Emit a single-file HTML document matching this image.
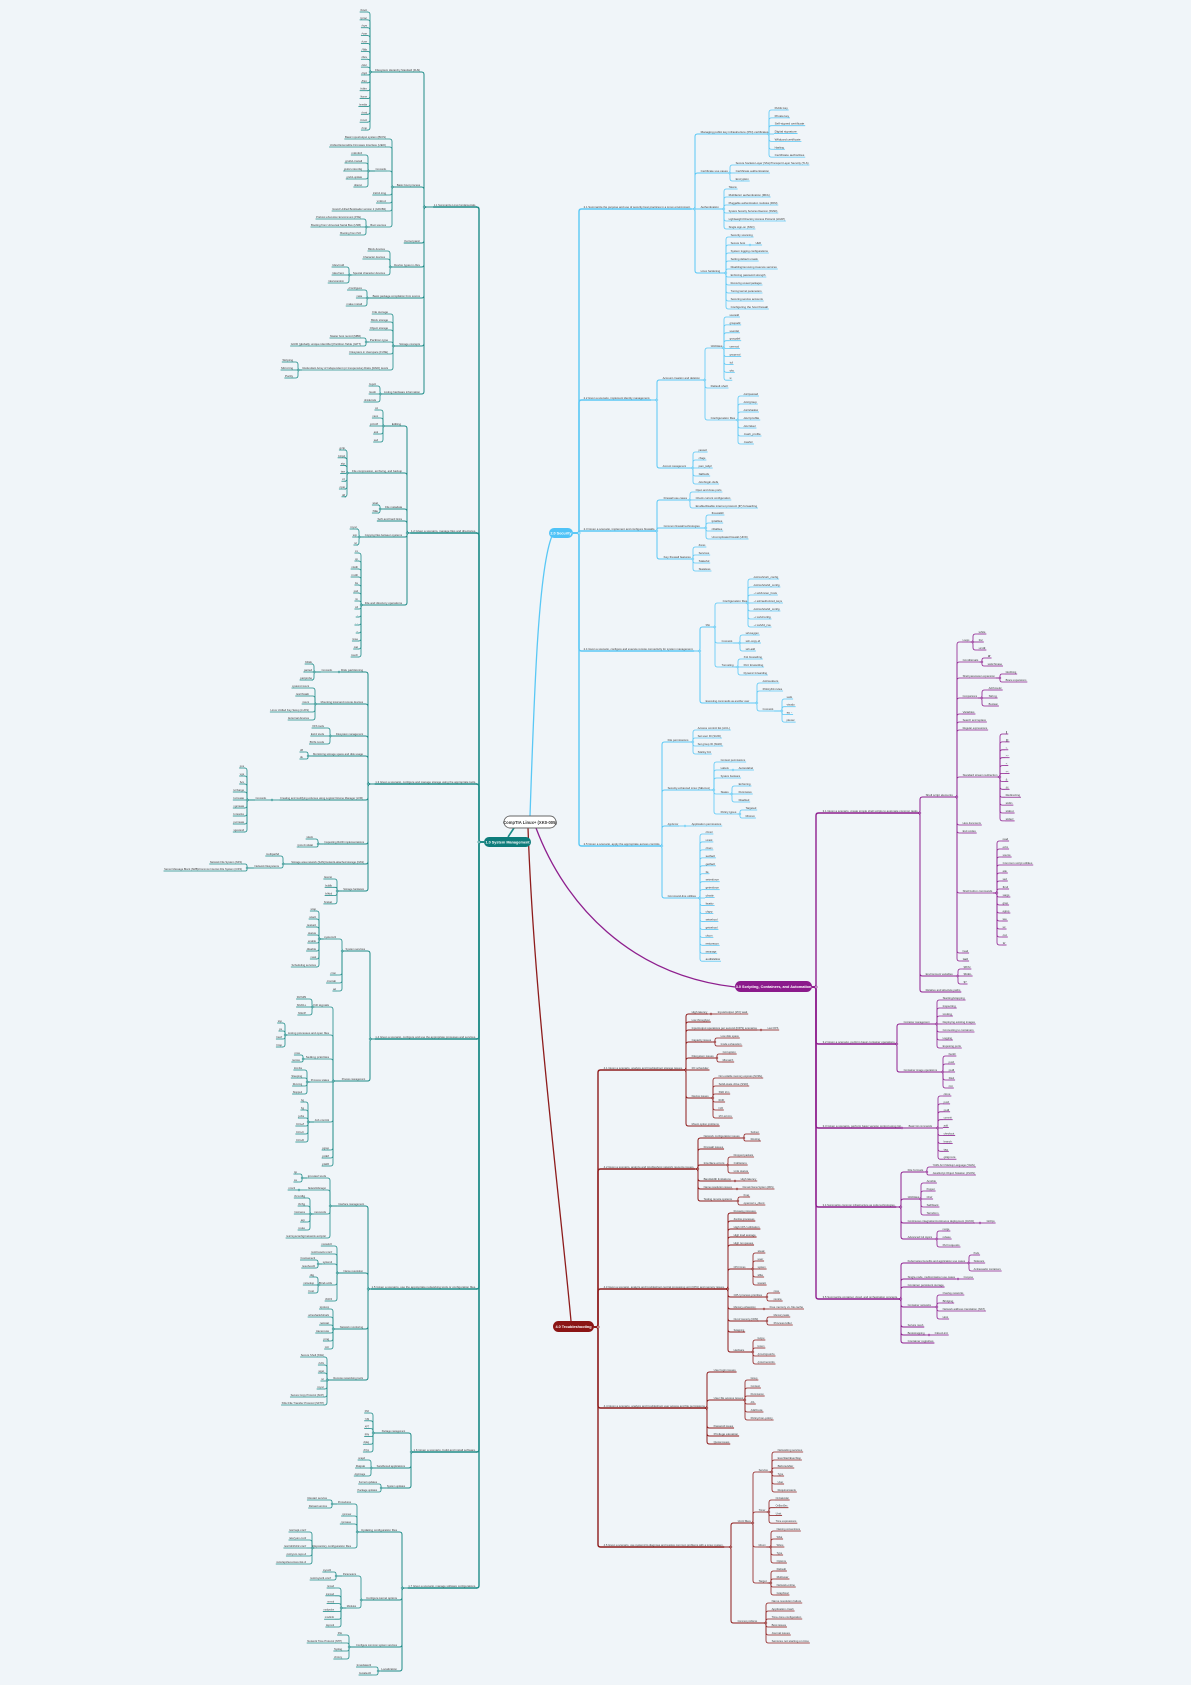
<!DOCTYPE html>
<html><head><meta charset="utf-8"><style>
html,body{margin:0;padding:0;background:#f0f5f9;}
svg{display:block;}
text{font-family:"Liberation Sans",sans-serif;}
</style></head><body>
<svg id="m" xmlns="http://www.w3.org/2000/svg" width="1191" height="1685" viewBox="0 0 1191 1685">
<rect width="1191" height="1685" fill="#f0f5f9"/>
<g id="links"></g><g id="nodes"></g>
<!-- main connectors -->
<path d="M530 816 C534 700 538 570 552 536" stroke="#5ac8f5" stroke-width="1.3" fill="none"/>
<path d="M514 828 L508 837" stroke="#1a8a87" stroke-width="1.6" fill="none"/>
<path d="M536 828 C565 905 630 975 735 987" stroke="#8e1f8e" stroke-width="1.3" fill="none"/>
<path d="M528 828 C534 1000 560 1200 571 1321" stroke="#8e1c1c" stroke-width="1.3" fill="none"/>
<rect x="504" y="816" width="52" height="12" rx="6" fill="#fff" stroke="#666" stroke-width="0.9"/>
<text x="530" y="824.2" font-size="4.2" text-anchor="middle" fill="#333" font-weight="bold">CompTIA Linux+ (XK0-005)</text>
<rect x="484" y="837" width="47" height="10" rx="5" fill="#0e7c7b"/>
<text x="507.5" y="843.6" font-size="3.8" text-anchor="middle" fill="#fff" font-weight="bold">1.0 System Management</text>
<rect x="549" y="528" width="24" height="10" rx="5" fill="#4fc3f7"/>
<text x="561" y="534.6" font-size="3.8" text-anchor="middle" fill="#fff" font-weight="bold">2.0 Security</text>
<rect x="735" y="981" width="77" height="11" rx="5.5" fill="#8b1a8b"/>
<text x="773.5" y="988.1" font-size="3.8" text-anchor="middle" fill="#fff" font-weight="bold">3.0 Scripting, Containers, and Automation</text>
<rect x="553" y="1321" width="41" height="11" rx="5.5" fill="#8b1515"/>
<text x="573.5" y="1328.1" font-size="3.8" text-anchor="middle" fill="#fff" font-weight="bold">4.0 Troubleshooting</text>
</svg>
<script>
function n(a,y,l,tx,k){return {a:a,y:y,l:l,tx:tx,k:k||[]};}
function ls(a,y0,dy,L){return L.map(function(l,i){return n(a,y0+i*dy,l);});}
var NS="http://www.w3.org/2000/svg";
var gl=document.getElementById("links"),gn=document.getElementById("nodes");
function el(t,at,p){var e=document.createElementNS(NS,t);for(var k in at)e.setAttribute(k,at[k]);p.appendChild(e);return e;}
function W(l){return l.length*1.27+2;}
function conn(px,py,tx,cx,cy,col,sw){
  var d,dir=cx<px?-1:1,dy=cy-py;
  if(Math.abs(dy)<0.6){d="M"+px+" "+py+" H"+cx;}
  else{var s=dy>0?1:-1,r=Math.min(2.5,Math.abs(dy)/2);
    d="M"+px+" "+py+" H"+(tx-dir*r)+" Q"+tx+" "+py+" "+tx+" "+(py+s*r)+" V"+(cy-s*r)+" Q"+tx+" "+cy+" "+(tx+dir*r)+" "+cy+" H"+cx;}
  el("path",{d:d,stroke:col,"stroke-width":sw,fill:"none"},gl);
}
function draw(nd,side,col,depth){
  var w=W(nd.l),y=nd.y+2;
  var x1=side<0?nd.a-w:nd.a,x2=x1+w;
  nd.x1=x1;nd.x2=x2;nd.Y=y;
  var sw=depth==1?1.4:(depth==2?1.0:0.8);
  el("line",{x1:x1,y1:y,x2:x2,y2:y,stroke:col,"stroke-width":sw},gn);
  var t=el("text",{x:x1+0.6,y:y-1.0,"font-size":"2.7",fill:"#3a3a3a",textLength:(w-1.5).toFixed(1),lengthAdjust:"spacingAndGlyphs"},gn);
  t.textContent=nd.l;
  if(nd.k.length){
    var px=side<0?x1:x2;
    nd.k.forEach(function(c){
      draw(c,side,col,depth+1);
      var cx=side<0?c.x2:c.x1;
      conn(px,y,nd.tx,cx,c.Y,col,c.sw||(depth+1==2?1.0:0.8));
    });
    el("circle",{cx:nd.tx,cy:y,r:0.9,fill:"#f0f5f9",stroke:col,"stroke-width":0.6},gn);
  }
}
function root(px,py,tx,side,col,kids){
  kids.forEach(function(c){draw(c,side,col,1);var cx=side<0?c.x2:c.x1;conn(px,py,tx,cx,c.Y,col,1.4);});
  el("circle",{cx:tx,cy:py,r:1.1,fill:"#f0f5f9",stroke:col,"stroke-width":0.7},gn);
}
var teal="#1f8c88",blue="#5ac8f5",purple="#8e1f8e",red="#8e1c1c";

/* ================= 1.0 System Management (left) ================= */
var S1=[
 n(477,205,"1.1 Summarize Linux fundamentals.",424,[
  n(421,70,"Filesystem Hierarchy Standard (FHS)",370,ls(368,10,7.87,["/boot","/proc","/sys","/var","/usr","/lib","/dev","/etc","/opt","/bin","/sbin","/home","/media","/mnt","/root","/tmp"])),
  n(421,185,"Basic boot process",392,[
   n(387,137,"Basic input/output system (BIOS)"),
   n(387,145,"Unified Extensible Firmware Interface (UEFI)"),
   n(387,169,"Commands",368,ls(363,153,8,["mkinitrd","grub2-install","grub2-mkconfig","grub2-update","dracut"])),
   n(387,193,"initrd.img"),n(387,201,"vmlinuz"),
   n(387,209,"Grand Unified Bootloader version 2 (GRUB2)"),
   n(387,225,"Boot sources",366,[n(362,217,"Preboot eXecution Environment (PXE)"),n(362,225,"Booting from Universal Serial Bus (USB)"),n(362,233,"Booting from ISO")])
  ]),
  n(421,241,"Kernel panic"),
  n(421,265,"Device types in /dev",390,[n(386,249,"Block devices"),n(386,257,"Character devices"),n(386,273,"Special character devices",349,ls(345,265,8,["/dev/null","/dev/zero","/dev/urandom"]))]),
  n(421,296,"Basic package compilation from source",367,ls(363,288,8,["./configure","make","make install"])),
  n(421,344,"Storage concepts",393,[n(389,312,"File storage"),n(389,320,"Block storage"),n(389,328,"Object storage"),
   n(389,340,"Partition type",366,[n(362,336,"Master boot record (MBR)"),n(362,344,"GUID [globally unique identifier] Partition Table (GPT)")]),
   n(389,352,"Filesystem in Userspace (FUSE)"),
   n(389,368,"Redundant Array of Independent (or Inexpensive) Disks (RAID) levels",298,ls(294,360,8,["Striping","Mirroring","Parity"]))]),
  n(421,392,"Listing hardware information",380,ls(377,384,8,["lspci","lsusb","dmidecode"]))
 ]),
 n(477,531,"1.2 Given a scenario, manage files and directories.",407,[
  n(402,424,"Editing",383,ls(379,408,8,["vi","nano","printf","awk","sed"])),
  n(403,471,"File compression, archiving, and backup",347,ls(346,448,7.8,["gzip","bzip2","zip","tar","xz","cpio","dd"])),
  n(403,507,"File metadata",380,ls(379,503,8,["stat","file"])),
  n(403,519,"Soft and hard links"),
  n(403,535,"Copying files between systems",359,ls(358,527,8,["rsync","scp","nc"])),
  n(403,603,"File and directory operations",361,ls(359,551,8,["mv","cp","mkdir","rmdir","ls","pwd","rm","cd",".","..","~","tree","cat","touch"]))
 ]),
 n(477,782,"1.3 Given a scenario, configure and manage storage using the appropriate tools.",368,[
  n(364,670,"Disk partitioning",339,[n(333,670,"Commands",314,ls(313,662,8,["fdisk","parted","partprobe"]))]),
  n(364,702,"Mounting local and remote devices",315,ls(310,686,8,["systemd.mount","/etc/fstab","mount","Linux Unified Key Setup (LUKS)","External devices"])),
  n(364,734,"Filesystem management",330,ls(325,726,8,["XFS tools","Ext4 tools","Btrfs tools"])),
  n(364,754,"Monitoring storage space and disk usage",308,ls(304,750,7,["df","du"])),
  n(364,798,"Creating and modifying volumes using Logical Volume Manager (LVM)",272,[n(267,798,"Commands",247,ls(245,766,8,["pvs","vgs","lvs","lvchange","lvcreate","vgcreate","lvresize","pvcreate","vgextend"]))]),
  n(365,842,"Inspecting RAID implementations",318,ls(314,837,8,["mdadm","/proc/mdstat"])),
  n(365,862,"Storage area network (SAN)/network-attached storage (NAS)",283,[n(280,854,"multipathd"),n(280,866,"Network filesystems",247,[n(243,862,"Network File System (NFS)"),n(243,869,"Server Message Block (SMB)/Common Internet File System (CIFS)")])]),
  n(365,889,"Storage hardware",337,ls(333,877,8.3,["lsscsi","lsblk","blkid","fcstat"]))
 ]),
 n(477,1037,"1.4 Given a scenario, configure and use the appropriate processes and services.",370,[
  n(366,949,"System services",342,[
   n(337,937,"systemctl",319,ls(317,909,8,["stop","start","restart","status","enable","disable","mask","Scheduling services"])),
   n(337,973,"cron"),n(337,981,"crontab"),n(337,989,"at")]),
  n(366,1079,"Process management",333,[
   n(330,1005,"Kill signals",312,ls(307,997,8,["SIGTERM","SIGKILL","SIGHUP"])),
   n(330,1033,"Listing processes and open files",285,ls(283,1021,8,["top","ps","lsof","htop"])),
   n(330,1057,"Setting priorities",303,ls(301,1053,7,["nice","renice"])),
   n(330,1080,"Process states",307,ls(303,1068,8,["Zombie","Sleeping","Running","Stopped"])),
   n(330,1120,"Job control",308,ls(305,1100,8,["bg","fg","jobs","Ctrl+Z","Ctrl+C","Ctrl+D"])),
   n(330,1148,"pgrep"),n(330,1156,"pidof"),n(330,1164,"pkill")])
 ]),
 n(477,1287,"1.5 Given a scenario, use the appropriate networking tools or configuration files.",368,[
  n(365,1204,"Interface management",330,[
   n(327,1176,"iproute2 tools",302,ls(298,1172,8,["ip","ss"])),
   n(327,1188,"NetworkManager",299,[n(296,1188,"nmcli")]),
   n(327,1212,"net-tools",310,ls(306,1196,8,["ifconfig","ifcfg","hostname","arp","route"])),
   n(327,1236,"/etc/sysconfig/network-scripts/")]),
  n(364,1271,"Name resolution",337,[
   n(333,1244,"nsswitch"),n(333,1252,"/etc/resolv.conf"),
   n(333,1262,"systemd",318,ls(316,1258,8,["hostnamectl","resolvectl"])),
   n(333,1283,"Bind-utils",318,ls(315,1275,8,["dig","nslookup","host"])),
   n(333,1299,"WHOIS")]),
  n(364,1327,"Network monitoring",333,ls(330,1307,8,["tcpdump","wireshark/tshark","netstat","traceroute","ping","mtr"])),
  n(364,1378,"Remote networking tools",327,ls(325,1355,8,["Secure Shell (SSH)","cURL","wget","nc","rsync","Secure Copy Protocol (SCP)","SSH File Transfer Protocol (SFTP)"]))
 ]),
 n(477,1450,"1.6 Given a scenario, build and install software.",411,[
  n(406,1431,"Package management",373,ls(370,1411,7.8,["DNF","YUM","APT","RPM","dpkg","ZYpp"])),
  n(406,1466,"Sandboxed applications",371,ls(366,1458,8,["snapd","Flatpak","AppImage"])),
  n(406,1486,"System updates",381,ls(378,1482,8,["Kernel updates","Package updates"]))
 ]),
 n(477,1586,"1.7 Given a scenario, manage software configurations.",402,[
  n(398,1530,"Updating configuration files",357,[
   n(352,1502,"Procedures",332,ls(328,1498,8,["Restart service","Reload service"])),
   n(352,1514,".rpmnew"),n(352,1522,".rpmsave"),
   n(352,1546,"Repository configuration files",312,ls(307,1530,8,["/etc/apt.conf","/etc/yum.conf","/etc/dnf/dnf.conf","/etc/yum.repo.d","/etc/apt/sources.list.d"]))]),
  n(398,1598,"Configure kernel options",361,[
   n(357,1574,"Parameters",336,ls(332,1570,8,["sysctl","/etc/sysctl.conf"])),
   n(357,1606,"Modules",341,ls(335,1586,7.8,["lsmod","insmod","rmmod","modprobe","modinfo","depmod"]))]),
  n(398,1645,"Configure common system services",349,ls(343,1633,8,["SSH","Network Time Protocol (NTP)","Syslog","chrony"])),
  n(398,1669,"Localization",378,ls(372,1665,8,["timedatectl","localectl"]))
 ])
];
root(484,842,479,-1,teal,S1);

/* ================= 2.0 Security ================= */
var S2=[
 n(583,207,"2.1 Summarize the purpose and use of security best practices in a Linux environment.",695,[
  n(700,132,"Managing public key infrastructure (PKI) certificates",769,ls(774,108,7.85,["Public key","Private key","Self-signed certificate","Digital signature","Wildcard certificate","Hashing","Certificate authorities"])),
  n(700,171,"Certificate use cases",730,[n(735,163,"Secure Sockets Layer (SSL)/Transport Layer Security (TLS)"),n(735,171,"Certificate authentication"),n(735,179,"Encryption")]),
  n(700,207,"Authentication",724,ls(728,187,8,["Tokens","Multifactor authentication (MFA)","Pluggable authentication modules (PAM)","System Security Services Daemon (SSSD)","Lightweight Directory Access Protocol (LDAP)","Single sign-on (SSO)"])),
  n(700,271,"Linux hardening",726,[n(730,235,"Security scanning"),n(730,243,"Secure boot",750,[n(755,243,"UEFI")]),
   n(730,251,"System logging configurations"),n(730,259,"Setting default umask"),n(730,267,"Disabling/removing insecure services"),n(730,275,"Enforcing password strength"),n(730,283,"Removing unused packages"),n(730,291,"Tuning kernel parameters"),n(730,299,"Securing service accounts"),n(730,307,"Configuring the host firewall")])
 ]),
 n(583,398,"2.2 Given a scenario, implement identity management.",657,[
  n(662,378,"Account creation and deletion",705,[
   n(710,346,"Utilities",724,ls(729,315,7.9,["useradd","groupadd","userdel","groupdel","usermod","groupmod","id","who","w"])),
   n(710,386,"Default shell"),
   n(710,418,"Configuration files",738,ls(743,394,8,["/etc/passwd","/etc/group","/etc/shadow","/etc/profile","/etc/skel",".bash_profile",".bashrc"]))]),
  n(662,466,"Account management",693,ls(698,450,8,["passwd","chage","pam_tally2","faillock","/etc/login.defs"]))
 ]),
 n(583,529,"2.3 Given a scenario, implement and configure firewalls.",657,[
  n(663,498,"Firewall use cases",690,[n(695,490,"Open and close ports"),n(695,498,"Check current configuration"),n(695,506,"Enable/disable internet protocol (IP) forwarding")]),
  n(663,526,"Common firewall technologies",706,ls(711,513,8,["firewalld","iptables","nftables","Uncomplicated firewall (UFW)"])),
  n(663,557,"Key firewall features",693,ls(698,545,8,["Zones","Services","Stateful","Stateless"]))
 ]),
 n(583,649,"2.4 Given a scenario, configure and execute remote connectivity for system management.",700,[
  n(705,625,"SSH",715,[
   n(722,601,"Configuration files",748,ls(753,577,8,["/etc/ssh/ssh_config","/etc/ssh/sshd_config","~/.ssh/known_hosts","~/.ssh/authorized_keys","/etc/ssh/sshd_config","~/.ssh/config","~/.ssh/id_rsa"])),
   n(721,641,"Commands",740,ls(745,633,8,["ssh-keygen","ssh-copy-id","ssh-add"])),
   n(721,665,"Tunneling",738,ls(743,657,8,["X11 forwarding","Port forwarding","Dynamic forwarding"]))]),
  n(705,701,"Executing commands as another user",757,[n(762,681,"/etc/sudoers"),n(762,689,"PolicyKit rules"),n(762,709,"Commands",782,ls(786,697,7.7,["sudo","visudo","su -","pkexec"]))])
 ]),
 n(583,844,"2.5 Given a scenario, apply the appropriate access controls.",662,[
  n(667,740,"File permissions",693,ls(697,728,8,["Access control list (ACL)","Set user ID (SUID)","Set group ID (SGID)","Sticky bit"])),
  n(667,788,"Security-enhanced Linux (SELinux)",714,[n(720,760,"Context permissions"),n(720,768,"Labels",733,[n(738,768,"Autorelabel")]),n(720,776,"System booleans"),
   n(720,792,"States",732,ls(738,784,8,["Enforcing","Permissive","Disabled"])),n(720,812,"Policy types",740,ls(745,808,8,["Targeted","Minimum"]))]),
  n(667,824,"AppArmor",685,[n(691,824,"Application permissions")]),
  n(667,896,"Command-line utilities",700,ls(705,832,7.95,["chmod","umask","chown","setfacl","getfacl","ls","setenforce","getenforce","chattr","lsattr","chgrp","setsebool","getsebool","chcon","restorecon","semanage","audit2allow"]))
 ])
];
root(573,533,579,1,blue,S2);

/* ================= 3.0 Scripting ================= */
var S3=[
 n(822,811,"3.1 Given a scenario, create simple shell scripts to automate common tasks.",920,[
  n(925,795,"Shell script elements",957,[
   n(962,640,"Loops",973,ls(978,632,8,["while","for","until"])),
   n(962,660,"Conditionals",982,[n(987,656,"if"),n(987,664,"switch/case")]),
   n(962,676,"Shell parameter expansion",1000,[n(1005,672,"Globbing"),n(1005,680,"Brace expansions")]),
   n(962,696,"Comparisons",982,ls(988,688,8,["Arithmetic","String","Boolean"])),
   n(962,712,"Variables"),n(962,720,"Search and replace"),n(962,728,"Regular expressions"),
   n(962,775,"Standard stream redirection",1000,ls(1005,732,7.9,["|","||",">",">>","<","<<","&","&&","Redirecting","stdin","stdout","stderr"])),
   n(962,823,"Here documents"),n(962,831,"Exit codes"),
   n(962,891,"Shell built-in commands",997,ls(1002,839,8,["read","echo","source","Common script utilities","awk","sed","find","xargs","grep","egrep","tee","wc","cut","tr"])),
   n(962,951,"head"),n(962,959,"tail")]),
  n(925,974,"Environment variables",958,[n(963,967,"$PATH"),n(963,974,"$SHELL"),n(963,982,"$?")]),
  n(925,990,"Relative and absolute paths")
 ]),
 n(822,1042,"3.2 Given a scenario, perform basic container operations.",897,[
  n(903,1022,"Container management",937,ls(942,998,8,["Starting/stopping","Inspecting","Listing","Deploying existing images","Connecting to containers","Logging","Exposing ports"])),
  n(903,1070,"Container image operations",943,ls(948,1054,8,["build","push","pull","list","rmi"]))
 ]),
 n(822,1126,"3.3 Given a scenario, perform basic version control using Git.",902,[
  n(908,1126,"Basic Git commands",938,ls(943,1094,7.9,["clone","push","pull","commit","add","checkout","branch","tag","gitignore"]))
 ]),
 n(822,1205,"3.4 Summarize common infrastructure as code technologies.",901,[
  n(907,1170,"File formats",927,[n(932,1165,"YAML Ain't Markup Language (YAML)"),n(932,1173,"JavaScript Object Notation (JSON)")]),
  n(907,1197,"Utilities",921,ls(926,1181,8,["Ansible","Puppet","Chef","SaltStack","Terraform"])),
  n(907,1221,"Continuous integration/continuous deployment (CI/CD)",980,[n(986,1221,"GitOps")]),
  n(907,1237,"Advanced Git topics",937,ls(942,1229,8,["merge","rebase","Pull requests"]))
 ]),
 n(822,1297,"3.5 Summarize container, cloud, and orchestration concepts.",901,[
  n(907,1261,"Kubernetes benefits and application use cases",969,ls(973,1253,8,["Pods","Sidecars","Ambassador containers"])),
  n(907,1277,"Single-node, multicontainer use cases",958,[n(963,1277,"Compose")]),
  n(907,1285,"Container persistent storage"),
  n(907,1305,"Container networks",937,ls(942,1293,8,["Overlay networks","Bridging","Network address translation (NAT)","Host"])),
  n(907,1325,"Service mesh"),
  n(907,1333,"Bootstrapping",929,[n(934,1333,"Cloud-init")]),
  n(907,1341,"Container registries")
 ])
];
root(812,987,816,1,purple,S3);

/* ================= 4.0 Troubleshooting ================= */
var S4=[
 n(603,1068,"4.1 Given a scenario, analyze and troubleshoot storage issues.",686,[
  n(691,1012,"High latency",711,[n(717,1012,"Input/output (I/O) wait")]),
  n(691,1020,"Low throughput"),
  n(691,1028,"Input/output operations per second (IOPS) scenarios",761,[n(767,1028,"Low IOPS")]),
  n(691,1040,"Capacity issues",715,[n(720,1036,"Low disk space"),n(720,1044,"Inode exhaustion")]),
  n(691,1056,"Filesystem issues",717,ls(722,1052,8,["Corruption","Mismatch"])),
  n(691,1068,"I/O scheduler"),
  n(691,1096,"Device issues",713,ls(718,1076,8,["Non-volatile memory express (NVMe)","Solid-state drive (SSD)","SSD trim","RAID","LVM","I/O errors"])),
  n(691,1124,"Mount option problems")
 ]),
 n(603,1167,"4.2 Given a scenario, analyze and troubleshoot network resource issues.",698,[
  n(703,1136,"Network configuration issues",744,[n(750,1132,"Subnet"),n(750,1139,"Routing")]),
  n(703,1147,"Firewall issues"),
  n(703,1163,"Interface errors",728,ls(733,1155,8,["Dropped packets","Collisions","Link status"])),
  n(703,1179,"Bandwidth limitations",735,[n(740,1179,"High latency")]),
  n(703,1187,"Name resolution issues",737,[n(742,1187,"Domain Name System (DNS)")]),
  n(703,1199,"Testing remote systems",738,[n(743,1195,"Nmap"),n(743,1203,"openssl s_client")])
 ]),
 n(603,1287,"4.3 Given a scenario, analyze and troubleshoot central processing unit (CPU) and memory issues.",728,[
  n(733,1211,"Runaway processes"),n(733,1219,"Zombie processes"),n(733,1227,"High CPU utilization"),n(733,1235,"High load average"),n(733,1243,"High run queues"),
  n(733,1267,"CPU times",753,ls(757,1251,8,["steal","user","system","idle","iowait"])),
  n(733,1295,"CPU process priorities",767,[n(773,1291,"nice"),n(773,1299,"renice")]),
  n(733,1307,"Memory exhaustion",764,[n(769,1307,"Free memory vs. file cache")]),
  n(733,1319,"Out of memory (OOM)",767,[n(773,1315,"Memory leaks"),n(773,1323,"Process killer")]),
  n(733,1330,"Swapping"),
  n(733,1350,"Hardware",753,ls(757,1338,8,["lscpu","lsmem","/proc/cpuinfo","/proc/meminfo"]))
 ]),
 n(603,1406,"4.4 Given a scenario, analyze and troubleshoot user access and file permissions.",707,[
  n(713,1370,"User login issues"),
  n(713,1398,"User file access issues",745,ls(750,1378,8,["Group","Context","Permission","ACL","Attribute","Policy/non-policy"])),
  n(713,1426,"Password issues"),n(713,1434,"Privilege elevation"),n(713,1442,"Quota issues")
 ]),
 n(603,1545,"4.5 Given a scenario, use systemd to diagnose and resolve common problems with a Linux system.",731,[
  n(737,1521,"Unit files",753,[
   n(758,1470,"Service",772,ls(777,1450,8,["Networking services","ExecStart/ExecStop","Before/after","Type","User","Requires/wants"])),
   n(758,1510,"Timer",769,ls(775,1498,7.7,["OnCalendar","OnBootSec","Unit","Time expressions"])),
   n(758,1545,"Mount",771,ls(776,1529,8,["Naming conventions","What","Where","Type","Options"])),
   n(758,1581,"Target",771,ls(776,1569,8,["Default","Multiuser","Network-online","Graphical"]))]),
  n(737,1621,"Common problems",766,ls(771,1601,8,["Name resolution failure","Application crash","Time-zone configuration","Boot issues","Journal issues","Services not starting on time"]))
 ])
];
root(594,1327,598,1,red,S4);
</script>
</body></html>
